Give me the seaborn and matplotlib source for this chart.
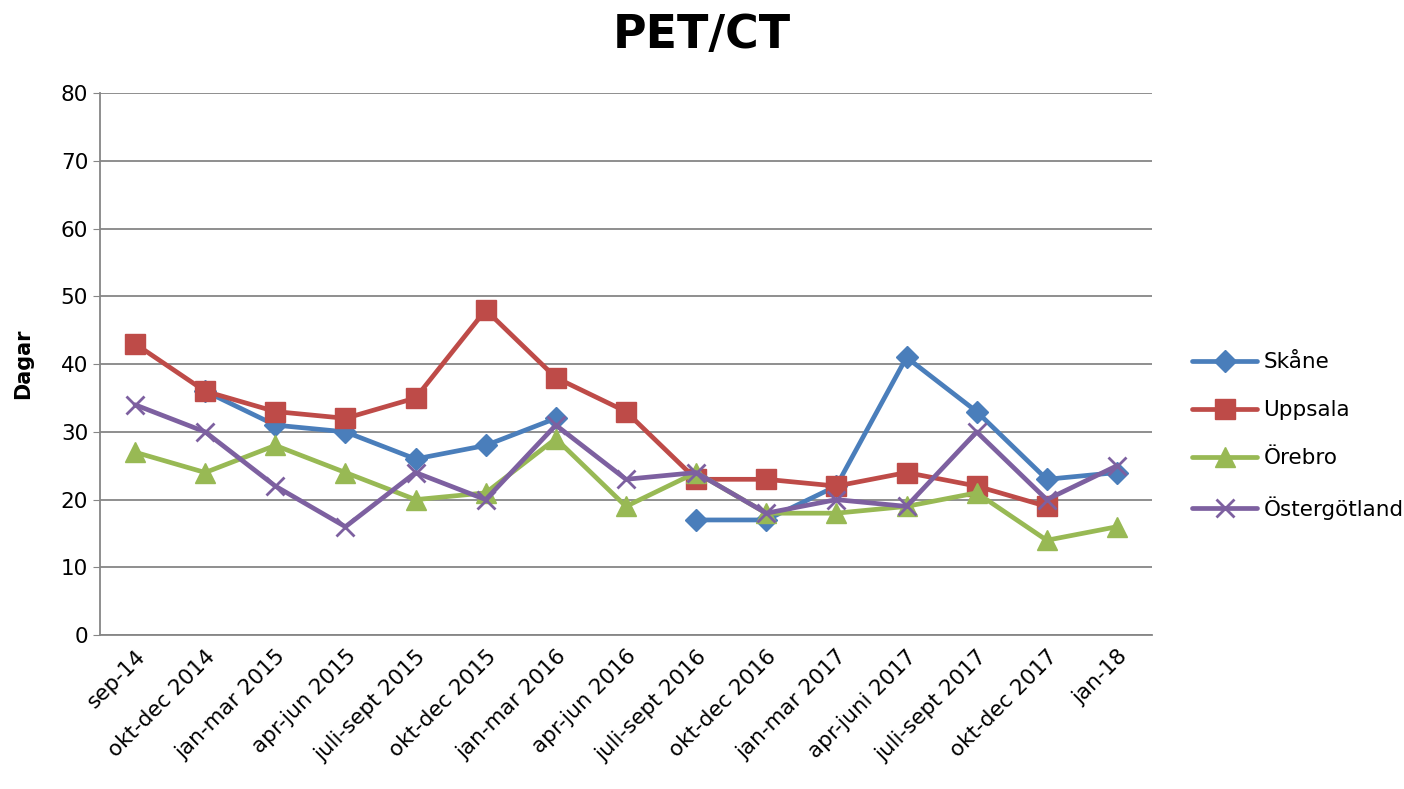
import numpy as np
import pandas as pd
import matplotlib
matplotlib.use('Agg')
import matplotlib.pyplot as plt
import seaborn as sns

# Data (NaN = no value for that period)
periods = ['sep-14', 'okt-dec 2014', 'jan-mar 2015', 'apr-jun 2015', 'juli-sept 2015',
           'okt-dec 2015', 'jan-mar 2016', 'apr-jun 2016', 'juli-sept 2016', 'okt-dec 2016',
           'jan-mar 2017', 'apr-juni 2017', 'juli-sept 2017', 'okt-dec 2017', 'jan-18']
skane = [np.nan, 36, 31, 30, 26, 28, 32, np.nan, 17, 17, 22, 41, 33, 23, 24]
uppsala = [43, 36, 33, 32, 35, 48, 38, 33, 23, 23, 22, 24, 22, 19, np.nan]
orebro = [27, 24, 28, 24, 20, 21, 29, 19, 24, 18, 18, 19, 21, 14, 16]
ostergotland = [34, 30, 22, 16, 24, 20, 31, 23, 24, 18, 20, 19, 30, 20, 25]

series = {'Skåne': skane, 'Uppsala': uppsala, 'Örebro': orebro, 'Östergötland': ostergotland}
colors = {'Skåne': '#4A7EBB', 'Uppsala': '#BE4B48', 'Örebro': '#98B954', 'Östergötland': '#7D60A0'}
markers = {'Skåne': 'D', 'Uppsala': 's', 'Örebro': '^', 'Östergötland': 'x'}
msizes = {'Skåne': 11, 'Uppsala': 14, 'Örebro': 14, 'Östergötland': 13}

# long format, with a segment id so that gaps in the data break the line
rows = []
for name, vals in series.items():
    seg = 0
    for i, v in enumerate(vals):
        if np.isnan(v):
            seg += 1
            continue
        rows.append({'region': name, 'pos': i, 'dagar': v, 'seg': seg})
df = pd.DataFrame(rows)

sns.set_style('white')
plt.rcParams['font.family'] = ['DejaVu Sans']
plt.rcParams['text.color'] = 'black'
plt.rcParams['axes.labelcolor'] = 'black'

fig, ax = plt.subplots(figsize=(14.04, 7.89), dpi=100)
fig.subplots_adjust(left=0.0712, right=0.8205, top=0.882, bottom=0.195)

for name in series:
    sub = df[df['region'] == name]
    sns.lineplot(data=sub, x='pos', y='dagar', units='seg', estimator=None,
                 color=colors[name], marker=markers[name], markersize=msizes[name],
                 markeredgecolor=colors[name], markeredgewidth=2 if name == 'Östergötland' else 1,
                 linewidth=3.4, ax=ax, sort=False)

ax.set_xlim(-0.5, len(periods) - 0.5)
ax.set_ylim(0, 80)
ax.set_yticks(range(0, 81, 10))
ax.set_xticks(range(len(periods)))
ax.set_xticklabels(periods, rotation=45, ha='right', rotation_mode='anchor')
ax.tick_params(axis='both', labelsize=15.5, colors='black')
ax.tick_params(axis='y', length=5, color='#868686', left=True)
ax.tick_params(axis='x', length=0, pad=8)
ax.yaxis.grid(True, color='#868686', linewidth=1.3)
ax.set_axisbelow(True)
for s in ['top', 'right']:
    ax.spines[s].set_visible(False)
for s in ['left', 'bottom']:
    ax.spines[s].set_color('#868686')
    ax.spines[s].set_linewidth(1.3)

ax.set_xlabel('')
ax.set_ylabel('Dagar', fontsize=15, fontweight='bold', labelpad=20, color='black')
fig.suptitle('PET/CT', fontsize=33, fontweight='bold', x=0.5, y=0.983, color='black')

handles = [plt.Line2D([], [], color=colors[n], marker=markers[n], markersize=msizes[n],
                      markeredgecolor=colors[n], markeredgewidth=2 if n == 'Östergötland' else 1,
                      linewidth=3.4) for n in series]
leg = ax.legend(handles, list(series.keys()), loc='center left', bbox_to_anchor=(1.02, 0.367),
                frameon=False, fontsize=15.5, handlelength=3, handletextpad=0.3, labelspacing=1.3)
for t in leg.get_texts():
    t.set_color('black')

plt.savefig('out.png', dpi=100)
